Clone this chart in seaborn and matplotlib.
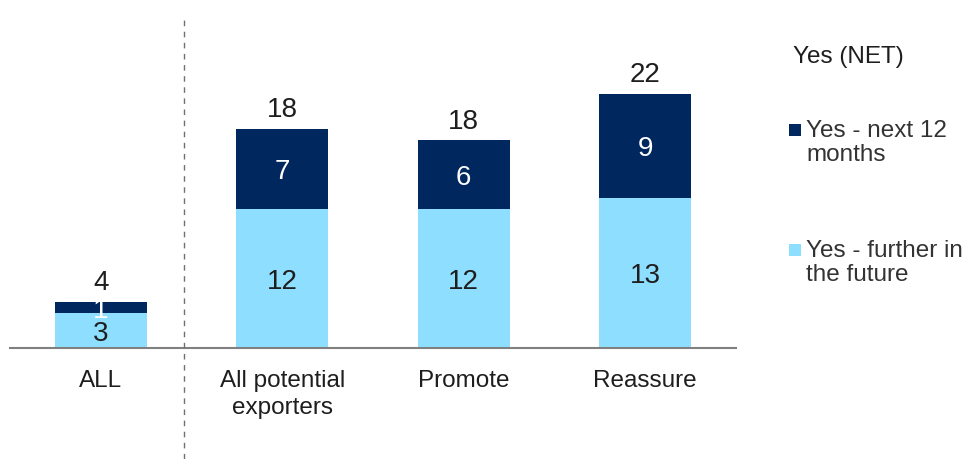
import matplotlib
matplotlib.use("Agg")
import matplotlib.pyplot as plt
from matplotlib.lines import Line2D
from matplotlib.patches import Rectangle
import seaborn as sns
import pandas as pd

categories = ["ALL", "All potential\nexporters", "Promote", "Reassure"]
further_future = [3, 12, 12, 13]
next_12_months = [1, 7, 6, 9]
net_labels = [4, 18, 18, 22]

dark = "#00285E"
light = "#8EDFFF"
text_col = "#1E1E1E"

sns.set_theme(style="white")
plt.rcParams["font.family"] = ["Liberation Sans", "DejaVu Sans"]

df = pd.DataFrame({
    "category": categories,
    "further": further_future,
    "next12": next_12_months,
})
df["stack_top"] = df["further"] + df["next12"]

fig = plt.figure(figsize=(9.67, 4.59), dpi=100)
W, H = 967, 459
ax = fig.add_axes([10 / W, (H - 348) / H, (736 - 10) / W, (348 - 18) / H])

bar_w = 0.505
sns.barplot(data=df, x="category", y="stack_top", color=dark, width=bar_w,
            saturation=1, ax=ax, edgecolor="none")
sns.barplot(data=df, x="category", y="further", color=light, width=bar_w,
            saturation=1, ax=ax, edgecolor="none")

ax.set_xlim(-0.5, 3.5)
ax.set_ylim(0, 28.57)
ax.set_xlabel("")
ax.set_ylabel("")
ax.set_yticks([])
for s in ["left", "right", "top"]:
    ax.spines[s].set_visible(False)
ax.spines["bottom"].set_color("#808080")
ax.spines["bottom"].set_linewidth(1.5)
ax.tick_params(axis="x", length=0, pad=16, labelsize=17.5, colors=text_col)
for lbl in ax.get_xticklabels():
    lbl.set_linespacing(1.28)

# segment and total labels
num_size = 20
for i, (f, n, tot) in enumerate(zip(further_future, next_12_months, net_labels)):
    ax.text(i, f / 2, f"{f}", ha="center", va="center_baseline", fontsize=num_size,
            color=text_col)
    ax.text(i, f + n / 2, f"{n}", ha="center", va="center_baseline", fontsize=num_size,
            color="white")
    ax.annotate(f"{tot}", xy=(i, f + n), xytext=(0, 4), textcoords="offset points",
                ha="center", va="bottom", fontsize=num_size, color=text_col)

# divider between the overall figure and the subgroups
fig.add_artist(Line2D([184 / W, 184 / W], [0, (H - 18) / H], transform=fig.transFigure,
                      color="#707070", linewidth=1, linestyle=(0, (4, 4))))

# legend
fig.text(793 / W, 1 - 57 / H, "Yes (NET)", ha="left", va="center", fontsize=17.5, color=text_col)
for (yy, col, label) in [(130, dark, "Yes - next 12\nmonths"),
                         (250, light, "Yes - further in\nthe future")]:
    fig.add_artist(Rectangle((789 / W, 1 - (yy + 6) / H), 12 / W, 12 / H,
                             transform=fig.transFigure, facecolor=col, edgecolor="none"))
    fig.text(806 / W, 1 - (yy - 10) / H, label, ha="left", va="top", fontsize=17.5,
             color="#333333", linespacing=1.12)

fig.savefig("out.png", dpi=100)
